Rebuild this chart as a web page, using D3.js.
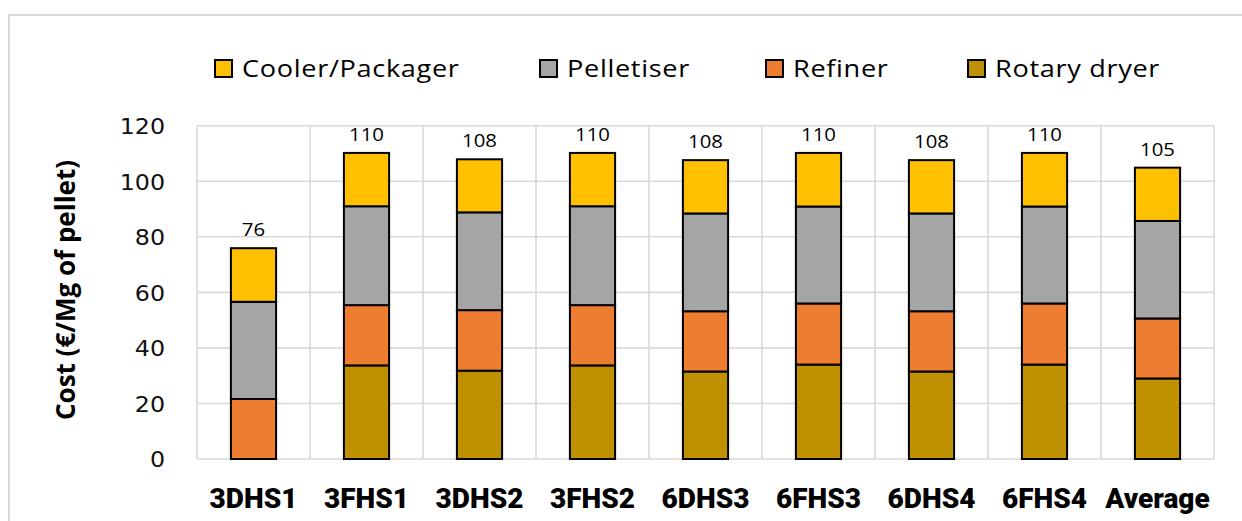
<!DOCTYPE html>
<html>
<head>
<meta charset="utf-8">
<script src="https://cdn.jsdelivr.net/npm/d3@7"></script>
<style>
  html, body { margin: 0; padding: 0; background: #fff; }
  svg { display: block; }
</style>
</head>
<body>
<svg id="chart" width="1242" height="521"></svg>
<script>
// Pellet production cost per process unit (€/Mg of pellet)
const categories = ["3DHS1", "3FHS1", "3DHS2", "3FHS2", "6DHS3", "6FHS3", "6DHS4", "6FHS4", "Average"];
const rotaryDryer = [0, 33.7, 31.8, 33.7, 31.5, 34.0, 31.5, 34.0, 29.0];
const refiner     = [21.6, 21.7, 21.8, 21.7, 21.7, 22.0, 21.7, 22.0, 21.6];
const pelletiser  = [35.0, 35.6, 35.2, 35.6, 35.2, 34.9, 35.2, 34.9, 35.1];
const coolerPack  = [19.3, 19.2, 19.1, 19.2, 19.2, 19.3, 19.2, 19.3, 19.2];
const yTicks = [0, 20, 40, 60, 80, 100, 120];

const seriesNames = ["Rotary dryer", "Refiner", "Pelletiser", "Cooler/Packager"];
const seriesValues = [rotaryDryer, refiner, pelletiser, coolerPack];
const legendOrder = ["Cooler/Packager", "Pelletiser", "Refiner", "Rotary dryer"];
const colors = {
  "Rotary dryer": "#BF9000",
  "Refiner": "#ED7D31",
  "Pelletiser": "#A5A5A5",
  "Cooler/Packager": "#FFC000"
};

const rows = categories.map((c, i) => {
  const r = { cat: c };
  seriesNames.forEach((s, k) => { r[s] = seriesValues[k][i]; });
  return r;
});
const stacked = d3.stack().keys(seriesNames)(rows);
const totals = rows.map(r => d3.sum(seriesNames, s => r[s]));

const svg = d3.select("#chart");
const plotL = 197, plotR = 1214, plotT = 125.7, plotB = 459;

const x = d3.scaleBand().domain(categories).range([plotL, plotR])
  .paddingInner(0.6).paddingOuter(0.3);
const y = d3.scaleLinear().domain([0, 120]).range([plotB, plotT]);

// outer frame (top and left edges only)
svg.append("path")
  .attr("d", "M9,521 V15 H1242")
  .attr("fill", "none").attr("stroke", "#d9d9d9").attr("stroke-width", 2);

// horizontal gridlines
svg.append("g").selectAll("line").data(yTicks).join("line")
  .attr("x1", plotL).attr("x2", plotR)
  .attr("y1", d => y(d)).attr("y2", d => y(d))
  .attr("stroke", "#d9d9d9").attr("stroke-width", 1.6);

// vertical category separators
const step = x.step();
const seps = d3.range(categories.length + 1).map(i => x(categories[0]) - step * 0.3 + i * step);
svg.append("g").selectAll("line").data(seps).join("line")
  .attr("x1", d => d).attr("x2", d => d)
  .attr("y1", plotT).attr("y2", plotB)
  .attr("stroke", "#d9d9d9").attr("stroke-width", 1.6);

// stacked bars
svg.append("g").selectAll("g").data(stacked).join("g")
  .attr("fill", d => colors[d.key])
  .selectAll("rect").data(d => d.filter(p => p[1] - p[0] > 0)).join("rect")
  .attr("x", d => x(d.data.cat))
  .attr("width", x.bandwidth())
  .attr("y", d => y(d[1]))
  .attr("height", d => y(d[0]) - y(d[1]))
  .attr("stroke", "#000").attr("stroke-width", 2);

// total labels
svg.append("g").selectAll("text").data(categories).join("text")
  .attr("transform", (d, i) => `translate(${x(d) + x.bandwidth() / 2},${y(totals[i]) - 12}) scale(1.1,1)`)
  .attr("text-anchor", "middle")
  .attr("font-family", "Open Sans, sans-serif").attr("font-size", 18.5)
  .attr("fill", "#000")
  .text((d, i) => Math.round(totals[i]));

// y axis
const yAxis = d3.axisLeft(y).tickValues(yTicks).tickSize(0).tickPadding(0);
const ya = svg.append("g").attr("transform", `translate(${plotL - 32},0)`).call(yAxis);
ya.select(".domain").remove();
ya.selectAll("text")
  .attr("font-family", "DejaVu Sans, sans-serif").attr("font-size", 22)
  .attr("transform", "scale(1.08,1)")
  .attr("fill", "#111").attr("dy", "0.36em");

// x axis
const xAxis = d3.axisBottom(x).tickSize(0).tickPadding(0);
const xa = svg.append("g").attr("transform", `translate(0,${plotB})`).call(xAxis);
xa.select(".domain").remove();
xa.selectAll("text")
  .attr("y", 49).attr("dy", 0)
  .attr("font-family", "Roboto, sans-serif").attr("font-weight", 900)
  .attr("font-size", 28).attr("fill", "#000");

// y axis title
svg.append("text")
  .attr("transform", "translate(75,290) rotate(-90)")
  .attr("text-anchor", "middle")
  .attr("font-family", "Open Sans, sans-serif").attr("font-weight", 700)
  .attr("font-size", 26).attr("fill", "#000")
  .text("Cost (€/Mg of pellet)");

// legend
const legendX = [215, 540, 766, 968];
const lg = svg.append("g").selectAll("g").data(legendOrder).join("g")
  .attr("transform", (d, i) => `translate(${legendX[i]},60)`);
lg.append("rect").attr("width", 17).attr("height", 17)
  .attr("fill", d => colors[d]).attr("stroke", "#000").attr("stroke-width", 2);
lg.append("text")
  .attr("transform", "translate(27,16.5) scale(1.13,1)")
  .attr("font-family", "Open Sans, sans-serif").attr("font-size", 24)
  .attr("letter-spacing", 0.6)
  .attr("fill", "#000")
  .text(d => d);
</script>
</body>
</html>
